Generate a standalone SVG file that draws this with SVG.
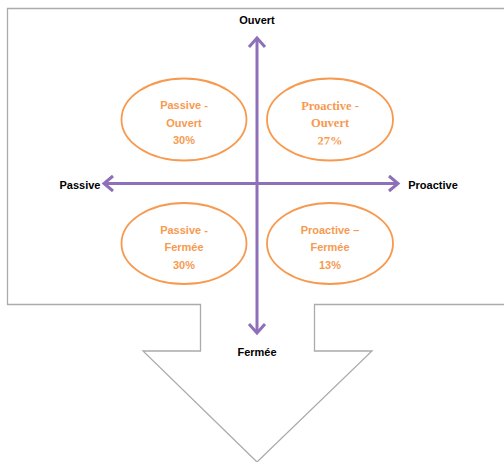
<svg xmlns="http://www.w3.org/2000/svg" width="504" height="462" viewBox="0 0 504 462">
<style>
.frame{fill:#fff;stroke:#ababab;stroke-width:1.3}
.ax{fill:none;stroke:#8d70b8;stroke-width:3;stroke-linecap:butt;stroke-linejoin:miter}
.el{fill:#fff;stroke:#f79a50;stroke-width:1.8}
.lbl{font-family:"Liberation Sans",Arial,sans-serif;font-weight:bold;font-size:11px;fill:#000;text-anchor:middle}
.t{font-family:"Liberation Sans",Arial,sans-serif;font-weight:bold;font-size:11px;fill:#f79a50;text-anchor:middle}
.ts{font-family:"Liberation Serif","Times New Roman",serif;font-weight:bold;font-size:12.5px;fill:#f79a50;text-anchor:middle}
</style>
<defs>
<clipPath id="clip27"><rect x="260" y="60" width="140" height="84.5"/></clipPath>
</defs>
<rect width="504" height="462" fill="#fff"/>
<g id="frame">
<path class="frame" d="M7.5,8.5 H510 V304.5 H314.5 V351 H372 L257,462 L143,351 H200.5 V304.5 H7.5 Z"/>
</g>
<g id="connectors">
<line class="ax" x1="257" y1="39" x2="257" y2="333"/>
<polyline class="ax" points="249,47 257,38 265,47"/>
<polyline class="ax" points="249,324 257,333 265,324"/>
<line class="ax" x1="105" y1="183.5" x2="398" y2="183.5"/>
<polyline class="ax" points="113,176 104,183.5 113,191"/>
<polyline class="ax" points="389,176 398,183.5 389,191"/>
</g>
<g id="label-ouvert"><text class="lbl" x="257" y="24">Ouvert</text></g>
<g id="label-fermee"><text class="lbl" x="257" y="356">Fermée</text></g>
<g id="label-passive"><text class="lbl" x="80" y="189">Passive</text></g>
<g id="label-proactive"><text class="lbl" x="433" y="189">Proactive</text></g>
<g id="passive-ouvert">
<ellipse class="el" cx="184" cy="119.5" rx="62.5" ry="41"/>
<text class="t" x="184" y="109">Passive -</text>
<text class="t" x="184" y="126.5">Ouvert</text>
<text class="t" x="184" y="144">30%</text>
</g>
<g id="proactive-ouvert">
<ellipse class="el" cx="330" cy="119.5" rx="63" ry="41"/>
<text class="ts" x="330" y="109.5">Proactive -</text>
<text class="ts" x="330" y="127">Ouvert</text>
<text class="ts" x="330" y="145" clip-path="url(#clip27)">27%</text>
</g>
<g id="passive-fermee">
<ellipse class="el" cx="184" cy="243.5" rx="62.5" ry="40.5"/>
<text class="t" x="184" y="234">Passive -</text>
<text class="t" x="184" y="251">Fermée</text>
<text class="t" x="184" y="268.5">30%</text>
</g>
<g id="proactive-fermee">
<ellipse class="el" cx="330" cy="243.5" rx="63" ry="40.5"/>
<text class="t" x="330" y="234">Proactive –</text>
<text class="t" x="330" y="251">Fermée</text>
<text class="t" x="330" y="268.5">13%</text>
</g>
</svg>
